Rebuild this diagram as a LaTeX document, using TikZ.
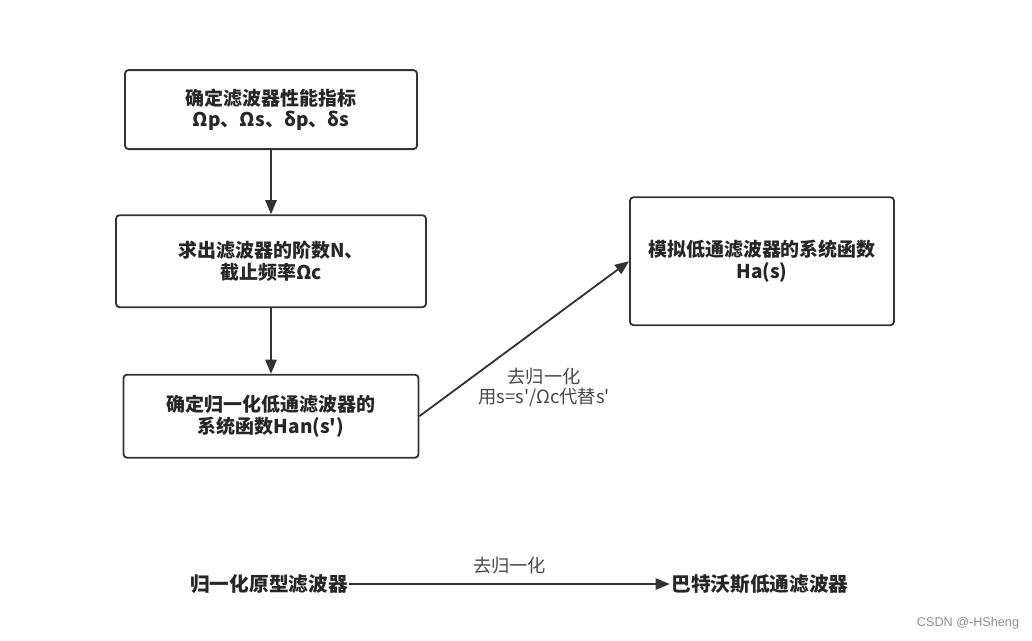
\documentclass[tikz,border=0pt]{standalone}
\usepackage{fontspec}
\setmainfont{Noto Sans CJK SC}[Ligatures=TeXOff]
\newfontfamily\marksf{Liberation Sans}
\usepackage{tikz}
\usetikzlibrary{calc,positioning,arrows.meta}

\begin{document}
\begin{tikzpicture}[node distance=1cm,auto,>={Triangle[length=10pt,width=8pt]},
  box/.style={draw=black!80, line width=1.3pt, rounded corners=2.5pt, align=center,
    text=black!85, font=\fontsize{13.5}{15}\selectfont\bfseries},
  link/.style={->, line width=1.3pt, draw=black!80},
  lbl/.style={align=center, text=black!72, font=\fontsize{13}{14.5}\selectfont},
  term/.style={inner sep=1pt, text=black!85, font=\fontsize{14}{17}\selectfont\bfseries}]
  \useasboundingbox (0,0) rectangle (25.8,-16.025);

  \node[box, minimum width=7.3cm, minimum height=1.975cm] (spec) at (6.775,-2.74) {确定滤波器性能指标\\Ωp、Ωs、δp、δs};
  \node[box, below of=spec, node distance=3.79cm, minimum width=7.75cm, minimum height=2.3cm] (order) {求出滤波器的阶数N、\\截止频率Ωc};
  \node[box, below of=order, node distance=3.875cm, minimum width=7.375cm, minimum height=2.075cm] (han) {确定归一化低通滤波器的\\系统函数Han(s')};
  \node[box, right of=order, node distance=12.275cm, minimum width=6.6cm, minimum height=3.2cm] (ana) {模拟低通滤波器的系统函数\\Ha(s)};

  %%%%

  \draw[link] (spec) -- (order);
  \draw[link] (order) -- (han);
  \draw[link] (han.east) --node[lbl, anchor=center, midway, xshift=0.5cm, yshift=-1.225cm]{去归一化\\用s=s'/Ωc代替s'} (ana.west);

  %%%%

  \node[term] (proto) at (6.725,-14.6) {归一化原型滤波器};
  \node[term] (bw) at (19,-14.6) {巴特沃斯低通滤波器};
  \draw[link] (proto) --node[lbl, above, midway, yshift=0.12cm]{去归一化} (bw);

  \node[text=black!45, font=\marksf\fontsize{9}{11}\selectfont] (mark) at (24.2,-15.575) {CSDN @-HSheng};

\end{tikzpicture}
\end{document}
